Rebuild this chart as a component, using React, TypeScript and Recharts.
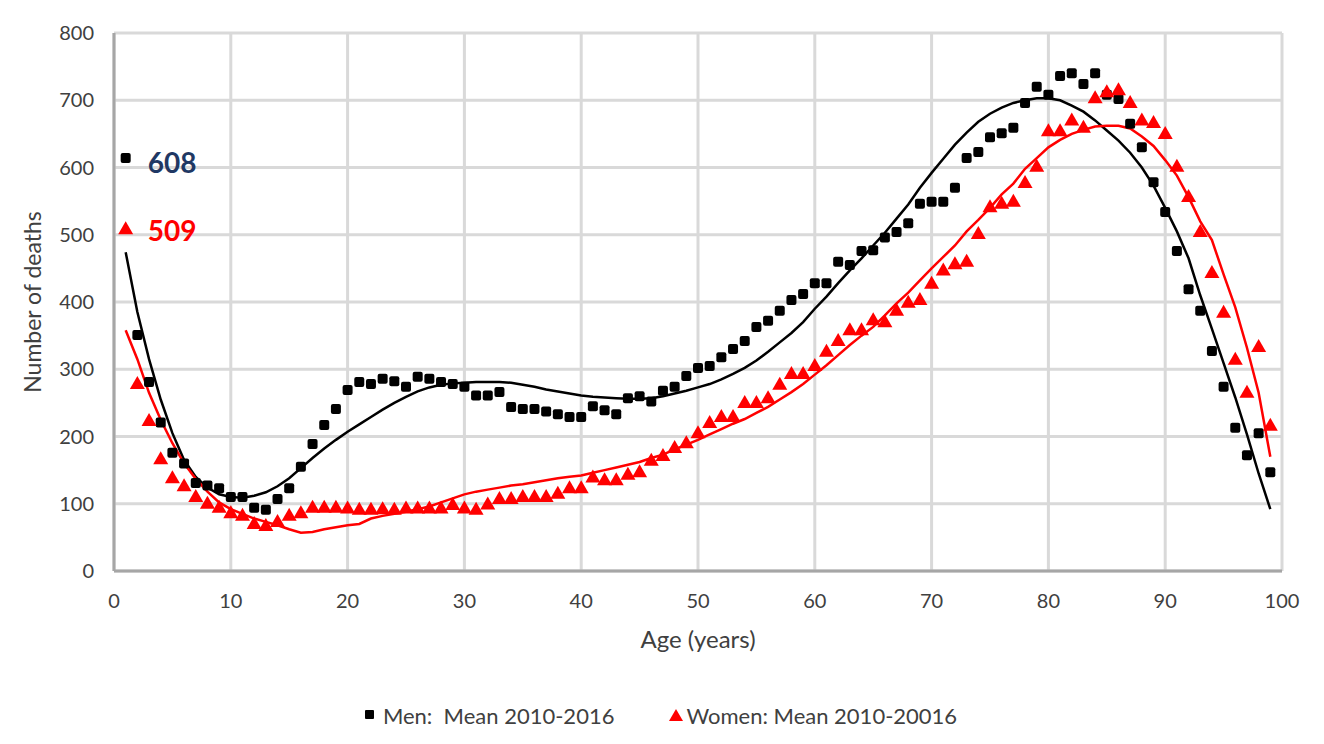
import React from "react"
import {
  ComposedChart,
  Scatter,
  Line,
  XAxis,
  YAxis,
  CartesianGrid,
  Legend,
  Label,
  ReferenceDot,
} from "recharts"

// ages 1..99
const ages = Array.from({ length: 99 }, (_, i) => i + 1)

const menMean = [
  614, 351, 281, 221, 176, 160, 131, 127, 123, 110,
  110, 94, 91, 107, 123, 155, 189, 217, 241, 269,
  281, 278, 286, 282, 274, 289, 286, 281, 278, 274,
  261, 261, 266, 244, 241, 241, 237, 233, 229, 229,
  245, 239, 233, 257, 260, 252, 268, 274, 290, 302,
  305, 318, 330, 342, 363, 372, 387, 403, 412, 428,
  428, 460, 455, 476, 477, 496, 504, 517, 546, 549,
  549, 570, 614, 623, 645, 651, 659, 696, 720, 708,
  736, 740, 724, 740, 708, 702, 665, 630, 578, 534,
  476, 419, 387, 327, 274, 213, 172, 205, 147,
]

const womenMean = [
  508, 278, 223, 166, 138, 126, 110, 100, 94, 86,
  82, 70, 67, 73, 82, 86, 94, 94, 94, 93,
  91, 91, 92, 91, 93, 93, 93, 93, 98, 93,
  91, 99, 107, 107, 110, 110, 110, 115, 123, 123,
  139, 135, 135, 143, 147, 164, 171, 183, 190, 205,
  220, 229, 229, 250, 250, 257, 277, 293, 293, 305,
  326, 342, 358, 358, 373, 370, 387, 399, 403, 427,
  447, 456, 460, 501, 541, 546, 549, 577, 601, 654,
  654, 670, 659, 703, 712, 715, 696, 670, 666, 650,
  601, 556, 504, 443, 384, 314, 265, 333, 216,
]

// polynomial trend lines as drawn in the source
const menTrend = [
  474, 385, 315, 255, 205, 165, 140, 124, 114, 110,
  109, 112, 117, 126, 138, 153, 168, 182, 195, 207,
  218, 229, 240, 250, 259, 267, 273, 277, 279, 280,
  281, 281, 281, 280, 277, 274, 270, 267, 264, 261,
  259, 258, 257, 256, 256, 257, 260, 264, 268, 273,
  278, 285, 293, 302, 313, 326, 340, 354, 370, 390,
  408, 428, 447, 465, 484, 503, 524, 545, 570, 592,
  613, 634, 652, 668, 680, 689, 696, 700, 703, 703,
  700, 692, 683, 670, 655, 640, 622, 600, 573, 540,
  505, 465, 410, 360, 309, 258, 203, 145, 92,
]

const womenTrend = [
  358, 315, 265, 225, 190, 160, 137, 118, 102, 92,
  85, 78, 73, 68, 62, 57, 58, 62, 65, 68,
  70, 78, 82, 85, 88, 92, 96, 102, 108, 114,
  118, 121, 124, 127, 129, 132, 135, 138, 140, 142,
  146, 150, 154, 158, 162, 168, 173, 181, 188, 195,
  203, 211, 219, 226, 235, 244, 255, 266, 278, 292,
  306, 321, 336, 350, 363, 380, 398, 414, 432, 450,
  467, 484, 505, 522, 540, 560, 576, 598, 614, 630,
  641, 650, 656, 661, 662, 662, 658, 646, 632, 611,
  588, 556, 520, 492, 441, 392, 332, 265, 170,
]

const xTicks = [0, 10, 20, 30, 40, 50, 60, 70, 80, 90, 100]
const yTicks = [0, 100, 200, 300, 400, 500, 600, 700, 800]

const FONT = "Lato, 'Open Sans', sans-serif"
const TEXT = "#404040"

const data = ages.map((age, i) => ({
  age,
  men: menMean[i],
  women: womenMean[i],
  menTrend: menTrend[i],
  womenTrend: womenTrend[i],
}))

const Square = (props: any) => {
  const { cx, cy } = props
  if (cx == null || cy == null) return null
  return <rect x={cx - 5} y={cy - 5} width={10} height={10} rx={2} fill="#000" />
}

const Triangle = (props: any) => {
  const { cx, cy } = props
  if (cx == null || cy == null) return null
  return (
    <polygon
      points={`${cx},${cy - 8} ${cx + 7.5},${cy + 5} ${cx - 7.5},${cy + 5}`}
      fill="#ff0000"
    />
  )
}

const LegendContent = () => (
  <div
    style={{
      display: "flex",
      justifyContent: "center",
      alignItems: "center",
      height: 40,
      fontFamily: FONT,
      fontSize: 22,
      color: TEXT,
      paddingLeft: 30,
    }}
  >
    <svg width={14} height={12} style={{ marginRight: 6 }}>
      <rect x={2} y={1} width={9} height={9} rx={1} fill="#000" />
    </svg>
    <span style={{ whiteSpace: "pre" }}>Men:  Mean 2010-2016</span>
    <svg width={16} height={14} style={{ marginLeft: 54, marginRight: 2 }}>
      <polygon points="8,1 15,13 1,13" fill="#ff0000" />
    </svg>
    <span>Women: Mean 2010-20016</span>
  </div>
)

const valueText = (text: string, color: string) => (props: any) => {
  const { viewBox } = props
  return (
    <text
      x={viewBox.x}
      y={viewBox.y}
      dy="0.35em"
      textAnchor="start"
      fontFamily={FONT}
      fontSize={28}
      fontWeight={700}
      fill={color}
    >
      {text}
    </text>
  )
}

export default function App() {
  return (
    <div style={{ width: 1308, height: 728 }}>
      <ComposedChart
        width={1308}
        height={728}
        data={data}
        margin={{ top: 25, right: 34, left: 0, bottom: 1 }}
      >
        <CartesianGrid stroke="#d9d9d9" strokeWidth={3} />
        <XAxis
          dataKey="age"
          type="number"
          domain={[0, 100]}
          ticks={xTicks}
          interval={0}
          axisLine={{ stroke: "#a6a6a6", strokeWidth: 3 }}
          tickLine={false}
          tickMargin={17}
          height={124}
          tick={{ fill: TEXT, fontSize: 20, fontFamily: FONT }}
        >
          <Label
            value="Age (years)"
            position="insideTop"
            offset={60}
            fill={TEXT}
            fontSize={24}
            fontFamily={FONT}
          />
        </XAxis>
        <YAxis
          type="number"
          domain={[0, 800]}
          ticks={yTicks}
          interval={0}
          width={106}
          axisLine={{ stroke: "#a6a6a6", strokeWidth: 3 }}
          tickLine={false}
          tickMargin={14}
          tick={{ fill: TEXT, fontSize: 20, fontFamily: FONT }}
        >
          <Label
            value="Number of deaths"
            angle={-90}
            position="insideLeft"
            offset={25}
            fill={TEXT}
            fontSize={23}
            fontFamily={FONT}
            style={{ textAnchor: "middle" }}
          />
        </YAxis>
        <Legend verticalAlign="bottom" content={<LegendContent />} wrapperStyle={{ height: 40 }} />
        <Scatter
          dataKey="men"
          name="Men: Mean 2010-2016"
          shape={<Square />}
          isAnimationActive={false}
        />
        <Scatter
          dataKey="women"
          name="Women: Mean 2010-20016"
          shape={<Triangle />}
          isAnimationActive={false}
        />
        <Line
          dataKey="menTrend"
          type="linear"
          stroke="#000"
          strokeWidth={2.5}
          dot={false}
          legendType="none"
          isAnimationActive={false}
        />
        <Line
          dataKey="womenTrend"
          type="linear"
          stroke="#ff0000"
          strokeWidth={2.5}
          dot={false}
          legendType="none"
          isAnimationActive={false}
        />
        <ReferenceDot x={2.9} y={606} r={0} label={valueText("608", "#1f3864")} />
        <ReferenceDot x={2.9} y={506} r={0} label={valueText("509", "#ff0000")} />
      </ComposedChart>
    </div>
  )
}
